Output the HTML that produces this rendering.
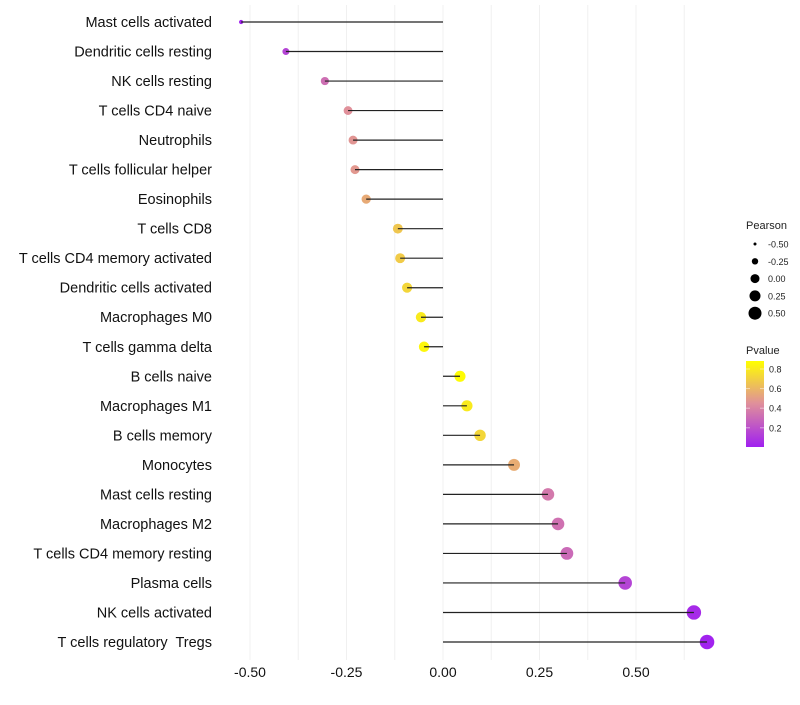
<!DOCTYPE html>
<html><head><meta charset="utf-8"><style>
body{margin:0;background:#fff;}
svg text{font-family:"Liberation Sans",sans-serif;white-space:pre;}
</style></head><body>
<svg id="c" width="800" height="700"></svg>
<script>
const categories=["Mast cells activated","Dendritic cells resting","NK cells resting","T cells CD4 naive","Neutrophils","T cells follicular helper","Eosinophils","T cells CD8","T cells CD4 memory activated","Dendritic cells activated","Macrophages M0","T cells gamma delta","B cells naive","Macrophages M1","B cells memory","Monocytes","Mast cells resting","Macrophages M2","T cells CD4 memory resting","Plasma cells","NK cells activated","T cells regulatory  Tregs"];
const pearson=[-0.523,-0.407,-0.306,-0.246,-0.233,-0.228,-0.199,-0.117,-0.111,-0.093,-0.057,-0.049,0.044,0.062,0.096,0.184,0.272,0.298,0.321,0.472,0.650,0.684];
const pvalue=[0.02,0.15,0.32,0.45,0.47,0.48,0.55,0.66,0.68,0.72,0.80,0.85,0.87,0.80,0.72,0.56,0.36,0.33,0.30,0.15,0.05,0.02];
const xTicks=[-0.5,-0.25,0,0.25,0.5];
const xTickLabels=["-0.50","-0.25","0.00","0.25","0.50"];
const sizeLegend=[-0.5,-0.25,0,0.25,0.5];
const colorTicks=[0.2,0.4,0.6,0.8];

const NS="http://www.w3.org/2000/svg";
const svg=document.getElementById('c');
function el(t,a,p){const e=document.createElementNS(NS,t);for(const k in a)e.setAttribute(k,a[k]);(p||svg).appendChild(e);return e;}
const x=v=>443+v*386;
const y=i=>22+i*(642-22)/(categories.length-1);
const r=v=>1.7+5.6*Math.sqrt(Math.max(0,(v+0.53)/1.22));
function lerp(a,b,t){return a.map((c,i)=>Math.round(c+(b[i]-c)*t));}
function col(p){const s=[[0.01,[160,32,240]],[0.45,[224,144,154]],[0.88,[255,255,0]]];
 if(p<=s[0][0])return 'rgb('+s[0][1]+')';
 for(let i=0;i<s.length-1;i++){if(p<=s[i+1][0]){const t=(p-s[i][0])/(s[i+1][0]-s[i][0]);return 'rgb('+lerp(s[i][1],s[i+1][1],t)+')';}}
 return 'rgb('+s[2][1]+')';}
const cy=p=>369+(0.8-p)*98;

for(let g=-0.5;g<=0.626;g+=0.125){
 const l=el('line',{x1:x(g),x2:x(g),y1:5,y2:660,stroke:'#f0f0f0','stroke-width':1});
 
 
}
xTicks.forEach((t,i)=>{
 const tx=el('text',{x:x(t),y:677,'text-anchor':'middle','font-size':14,fill:'#111'});
 tx.textContent=xTickLabels[i];
 
 
});
categories.forEach((c,i)=>{
 const t=el('text',{x:212,y:y(i)+5,'text-anchor':'end','font-size':14.5,fill:'#111'});
 t.textContent=c;
 
 
 const d=el('circle',{cx:x(pearson[i]),cy:y(i),r:r(pearson[i]),fill:col(pvalue[i])});
 
 
});
categories.forEach((c,i)=>{
 const ln=el('line',{x1:x(0),x2:x(pearson[i]),y1:y(i),y2:y(i),stroke:'#222','stroke-width':1.2});
 
 
});
const lt=el('text',{x:746,y:229,'font-size':11,fill:'#222'});lt.textContent='Pearson';


const lr=[1.5,3.2,4.5,5.5,6.5];
sizeLegend.forEach((v,i)=>{
 const yy=244+i*17.3;
 const c=el('circle',{cx:755,cy:yy,r:lr[i],fill:'#000'});
 
 
 const t=el('text',{x:768,y:yy+3.5,'font-size':9,fill:'#222'});t.textContent=xTickLabels[i];
 
 
});
const ct=el('text',{x:746,y:354,'font-size':11,fill:'#222'});ct.textContent='Pvalue';


const defs=el('defs',{});const gr=el('linearGradient',{id:'g',x1:0,y1:1,x2:0,y2:0},defs);
[[0,'rgb(160,32,240)'],[0.51,'rgb(224,144,154)'],[1,'rgb(255,255,0)']].forEach(s=>el('stop',{offset:s[0],'stop-color':s[1]},gr));
const bar=el('rect',{x:746,y:361,width:18,height:86,fill:'url(#g)'});


colorTicks.forEach(p=>{
 el('line',{x1:746,x2:750,y1:cy(p),y2:cy(p),stroke:'#fff','stroke-opacity':0.5});
 el('line',{x1:760,x2:764,y1:cy(p),y2:cy(p),stroke:'#fff','stroke-opacity':0.5});
 const t=el('text',{x:769,y:cy(p)+3.5,'font-size':9,fill:'#222'});t.textContent=p.toFixed(1);
 
 
});
</script>
</body></html>
